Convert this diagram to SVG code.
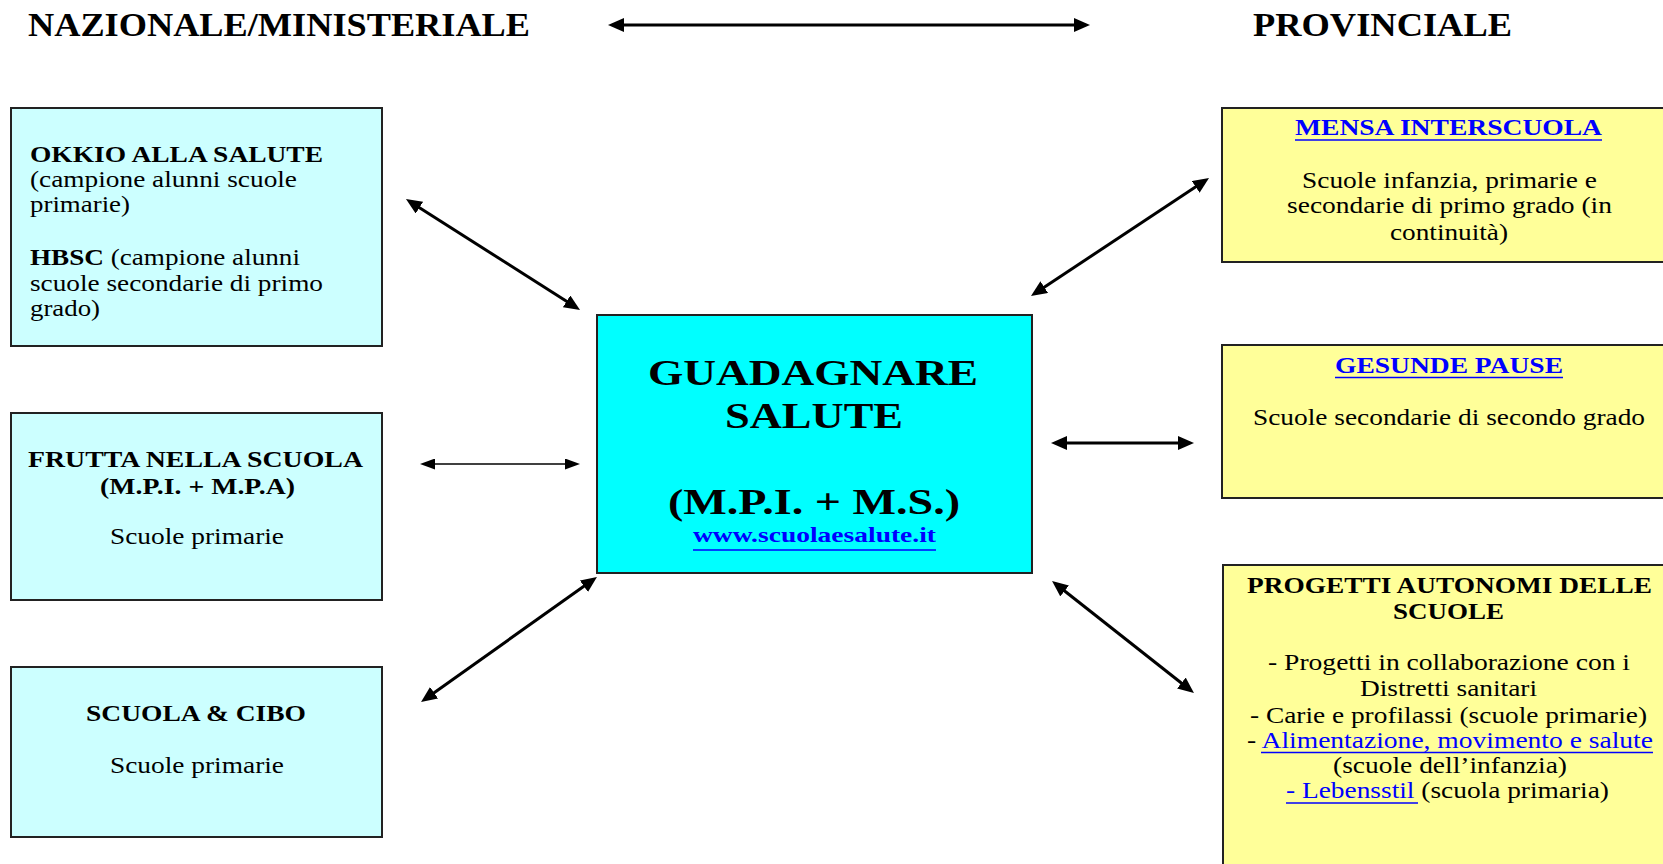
<svg xmlns="http://www.w3.org/2000/svg" width="1663" height="864" viewBox="0 0 1663 864">
<style>
text{font-family:"Liberation Serif","Times New Roman",serif;fill:#000}
.h{font-size:33px;font-weight:bold}
.t{font-size:23px}
.b{font-weight:bold}
.big{font-size:35px;font-weight:bold}
.lk{fill:#0000FF}
.ul{stroke:#0000FF;stroke-width:1.6}
.lb{fill:#CCFFFF;stroke:#222;stroke-width:2}
.rb{fill:#FFFF99;stroke:#222;stroke-width:2}
.cb{fill:#00FFFF;stroke:#222;stroke-width:2}
.ar{stroke:#000;stroke-width:3;fill:none;marker-start:url(#ah);marker-end:url(#ah)}
.ar2{stroke:#000;stroke-width:1.6;fill:none;marker-start:url(#ah2);marker-end:url(#ah2)}
</style>
<defs>
<marker id="ah" markerUnits="userSpaceOnUse" viewBox="0 0 16 14" markerWidth="16" markerHeight="14" refX="6" refY="7" orient="auto-start-reverse"><path d="M0,0 L16,7 L0,14 z" fill="#000"/></marker>
<marker id="ah2" markerUnits="userSpaceOnUse" viewBox="0 0 15 11" markerWidth="15" markerHeight="11" refX="5" refY="5.5" orient="auto-start-reverse"><path d="M0,0 L15,5.5 L0,11 z" fill="#000"/></marker>
</defs>
<rect width="1663" height="864" fill="#fff"/>

<g id="header">
<text class="h" x="28" y="36" textLength="502" lengthAdjust="spacingAndGlyphs">NAZIONALE/MINISTERIALE</text>
<text class="h" x="1253" y="36" textLength="259" lengthAdjust="spacingAndGlyphs">PROVINCIALE</text>
</g>

<g id="okkio">
<rect class="lb" x="11" y="108" width="371" height="238"/>
<text class="t b" x="30" y="162" textLength="293" lengthAdjust="spacingAndGlyphs">OKKIO ALLA SALUTE</text>
<text class="t" x="30" y="187" textLength="267" lengthAdjust="spacingAndGlyphs">(campione alunni scuole</text>
<text class="t" x="30" y="212" textLength="100" lengthAdjust="spacingAndGlyphs">primarie)</text>
<text class="t" x="30" y="265" textLength="270" lengthAdjust="spacingAndGlyphs"><tspan class="b">HBSC</tspan> (campione alunni</text>
<text class="t" x="30" y="291" textLength="293" lengthAdjust="spacingAndGlyphs">scuole secondarie di primo</text>
<text class="t" x="30" y="316" textLength="70" lengthAdjust="spacingAndGlyphs">grado)</text>
</g>

<g id="frutta">
<rect class="lb" x="11" y="413" width="371" height="187"/>
<text class="t b" x="28" y="467" textLength="335" lengthAdjust="spacingAndGlyphs">FRUTTA NELLA SCUOLA</text>
<text class="t b" x="100" y="494" textLength="195" lengthAdjust="spacingAndGlyphs">(M.P.I. + M.P.A)</text>
<text class="t" x="110" y="544" textLength="174" lengthAdjust="spacingAndGlyphs">Scuole primarie</text>
</g>

<g id="cibo">
<rect class="lb" x="11" y="667" width="371" height="170"/>
<text class="t b" x="86" y="721" textLength="220" lengthAdjust="spacingAndGlyphs">SCUOLA &amp; CIBO</text>
<text class="t" x="110" y="773" textLength="174" lengthAdjust="spacingAndGlyphs">Scuole primarie</text>
</g>

<g id="guadagnare">
<rect class="cb" x="597" y="315" width="435" height="258"/>
<text class="big" x="648" y="385" textLength="330" lengthAdjust="spacingAndGlyphs">GUADAGNARE</text>
<text class="big" x="725" y="428" textLength="178" lengthAdjust="spacingAndGlyphs">SALUTE</text>
<text class="big" x="668" y="514" textLength="292" lengthAdjust="spacingAndGlyphs">(M.P.I. + M.S.)</text>
<text class="lk b" style="font-size:22px" x="693" y="542" textLength="243" lengthAdjust="spacingAndGlyphs">www.scuolaesalute.it</text>
<line class="ul" x1="693" y1="550" x2="936" y2="550"/>
</g>

<g id="mensa">
<rect class="rb" x="1222" y="108" width="450" height="154"/>
<text class="t b lk" x="1295" y="135" textLength="307" lengthAdjust="spacingAndGlyphs">MENSA INTERSCUOLA</text>
<line class="ul" x1="1295" y1="140" x2="1602" y2="140"/>
<text class="t" x="1302" y="188" textLength="295" lengthAdjust="spacingAndGlyphs">Scuole infanzia, primarie e</text>
<text class="t" x="1287" y="213" textLength="325" lengthAdjust="spacingAndGlyphs">secondarie di primo grado (in</text>
<text class="t" x="1390" y="240" textLength="118" lengthAdjust="spacingAndGlyphs">continuità)</text>
</g>

<g id="gesunde">
<rect class="rb" x="1222" y="345" width="450" height="153"/>
<text class="t b lk" x="1335" y="373" textLength="228" lengthAdjust="spacingAndGlyphs">GESUNDE PAUSE</text>
<line class="ul" x1="1335" y1="377.5" x2="1563" y2="377.5"/>
<text class="t" x="1253" y="425" textLength="392" lengthAdjust="spacingAndGlyphs">Scuole secondarie di secondo grado</text>
</g>

<g id="progetti">
<rect class="rb" x="1223" y="565" width="450" height="310"/>
<text class="t b" x="1247" y="593" textLength="405" lengthAdjust="spacingAndGlyphs">PROGETTI AUTONOMI DELLE</text>
<text class="t b" x="1393" y="619" textLength="111" lengthAdjust="spacingAndGlyphs">SCUOLE</text>
<text class="t" x="1268" y="670" textLength="362" lengthAdjust="spacingAndGlyphs">- Progetti in collaborazione con i</text>
<text class="t" x="1360" y="696" textLength="177" lengthAdjust="spacingAndGlyphs">Distretti sanitari</text>
<text class="t" x="1250" y="723" textLength="397" lengthAdjust="spacingAndGlyphs">- Carie e profilassi (scuole primarie)</text>
<text class="t" x="1247" y="748" textLength="406" lengthAdjust="spacingAndGlyphs">- <tspan class="lk">Alimentazione, movimento e salute</tspan></text>
<line class="ul" x1="1261" y1="752.5" x2="1653" y2="752.5"/>
<text class="t" x="1333" y="773" textLength="234" lengthAdjust="spacingAndGlyphs">(scuole dell’infanzia)</text>
<text class="t" x="1286" y="798" textLength="323" lengthAdjust="spacingAndGlyphs"><tspan class="lk">- Lebensstil</tspan> (scuola primaria)</text>
<line class="ul" x1="1286" y1="803" x2="1418" y2="803"/>
</g>

<g id="connectors">
<line class="ar" x1="618" y1="25" x2="1080" y2="25"/>
<line class="ar" x1="414.4" y1="204.4" x2="571.6" y2="304.6"/>
<line class="ar2" x1="430" y1="464" x2="570" y2="464"/>
<line class="ar" x1="429.2" y1="696.2" x2="588.8" y2="582.8"/>
<line class="ar" x1="1039.3" y1="290.5" x2="1200.7" y2="183.5"/>
<line class="ar" x1="1061" y1="443" x2="1184" y2="443"/>
<line class="ar" x1="1059.9" y1="587.2" x2="1186.1" y2="686.8"/>
</g>
</svg>
